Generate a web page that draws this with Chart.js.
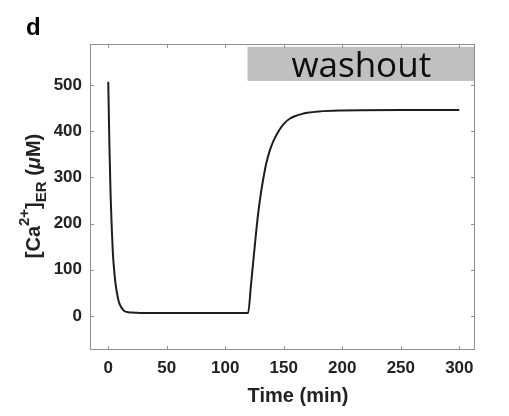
<!DOCTYPE html>
<html>
<head>
<meta charset="utf-8">
<script src="https://cdn.jsdelivr.net/npm/chart.js@4/dist/chart.umd.min.js"></script>
<style>
  html, body { margin: 0; padding: 0; background: #fff; }
  #wrap { width: 509px; height: 416px; position: relative; }
</style>
</head>
<body>
<div id="wrap"><canvas id="chart"></canvas></div>
<script>
// values (time in min, [Ca2+]ER in uM)
const timeMin = [0, 0.5, 1, 1.5, 2, 3, 4, 5, 6, 7, 8, 9, 10, 12, 14, 17, 20, 25, 30, 60, 90,
  119.5, 122, 124, 126, 128, 130, 132, 135, 138, 141, 145, 150, 155, 160, 165, 170, 180, 200, 250, 300]
const caER = [507, 435, 368, 315, 262, 190, 134, 100, 74, 56, 42, 31, 24, 15, 10, 8, 7, 6.5, 6, 6, 6,
  6, 68, 120, 172, 220, 258, 290, 330, 358, 378, 398, 416, 427, 433, 437, 440, 443, 445, 446, 446]

const xTicks = [0, 50, 100, 150, 200, 250, 300]
const yTicks = [0, 100, 200, 300, 400, 500]
const xRange = [-15.6, 313.4]
const yRange = [-74, 589]

// washout bar: starts at t=120 and runs to the right edge
const washoutStart = 119
const washoutBand = [509, 583]
const washoutLabel = 'washout'

const axisGray = '#8f8f8f'
const textDark = '#222'
const sans = '"Liberation Sans", Arial, Helvetica, sans-serif'

const points = timeMin.map((t, i) => ({x: t, y: caER[i]}))

const boxPlugin = {
	id: 'boxPlugin',
	beforeDatasetsDraw(chart) {
		const {ctx, chartArea: a, scales: {x, y}} = chart
		ctx.save()
		// washout bar
		const x0 = x.getPixelForValue(washoutStart)
		const yTop = y.getPixelForValue(washoutBand[1])
		const yBot = y.getPixelForValue(washoutBand[0])
		ctx.fillStyle = '#c0c0c0'
		ctx.fillRect(x0, yTop, a.right - x0, yBot - yTop)
		ctx.fillStyle = '#0c0c0c'
		ctx.font = '35px "Open Sans", "Noto Sans", sans-serif'
		ctx.textAlign = 'center'
		ctx.textBaseline = 'alphabetic'
		ctx.fillText(washoutLabel, x0 + (a.right - x0) * 0.5, yBot - 4)
		ctx.restore()
	},
	afterDatasetsDraw(chart) {
		const {ctx, chartArea: a, scales: {x, y}} = chart
		ctx.save()
		ctx.strokeStyle = axisGray
		ctx.lineWidth = 1
		ctx.strokeRect(a.left + 0.5, a.top + 0.5, a.right - a.left - 1, a.bottom - a.top - 1)
		ctx.beginPath()
		const len = 4
		xTicks.forEach(v => {
			const px = Math.round(x.getPixelForValue(v)) + 0.5
			ctx.moveTo(px, a.bottom); ctx.lineTo(px, a.bottom - len)
			ctx.moveTo(px, a.top); ctx.lineTo(px, a.top + len)
		})
		yTicks.forEach(v => {
			const py = Math.round(y.getPixelForValue(v)) + 0.5
			ctx.moveTo(a.left, py); ctx.lineTo(a.left + len, py)
			ctx.moveTo(a.right, py); ctx.lineTo(a.right - len, py)
		})
		ctx.stroke()

		// panel letter
		ctx.fillStyle = '#000'
		ctx.font = 'bold 24px ' + sans
		ctx.textAlign = 'left'
		ctx.textBaseline = 'alphabetic'
		ctx.fillText('d', 26, 35)

		// x title
		ctx.fillStyle = textDark
		ctx.font = 'bold 20px ' + sans
		ctx.textAlign = 'center'
		ctx.fillText('Time (min)', 298, 402)

		// y title with super/subscript, rotated
		const parts = [
			{t: '[Ca', f: 'bold 20px ' + sans, dy: 0},
			{t: '2+', f: 'bold 15px ' + sans, dy: -11},
			{t: ']', f: 'bold 20px ' + sans, dy: 0},
			{t: 'ER', f: 'bold 15px ' + sans, dy: 6},
			{t: ' (', f: 'bold 20px ' + sans, dy: 0},
			{t: '\u03bc', f: 'italic bold 20px ' + sans, dy: 0},
			{t: 'M)', f: 'bold 20px ' + sans, dy: 0}
		]
		let total = 0
		parts.forEach(p => { ctx.font = p.f; p.w = ctx.measureText(p.t).width; total += p.w })
		ctx.translate(40, 196)
		ctx.rotate(-Math.PI / 2)
		ctx.textAlign = 'left'
		let cx = -total / 2
		parts.forEach(p => {
			ctx.font = p.f
			ctx.fillText(p.t, cx, p.dy)
			cx += p.w
		})
		ctx.restore()
	}
}

new Chart(document.getElementById('chart'), {
	type: 'line',
	data: {
		datasets: [{
			data: points,
			borderColor: '#1e1e1e',
			borderWidth: 2,
			pointRadius: 0,
			fill: false,
			cubicInterpolationMode: 'monotone'
		}]
	},
	options: {
		responsive: true,
		maintainAspectRatio: false,
		animation: false,
		layout: {padding: {top: 44, right: 34, left: 0, bottom: 0}},
		plugins: {legend: {display: false}, tooltip: {enabled: false}},
		scales: {
			x: {
				type: 'linear',
				min: xRange[0],
				max: xRange[1],
				afterBuildTicks: s => { s.ticks = xTicks.map(v => ({value: v})) },
				afterFit: s => { s.height = 66 },
				grid: {display: false, drawTicks: false},
				border: {display: false},
				ticks: {
					padding: 8,
					color: textDark,
					font: {family: sans, size: 17, weight: 'bold'},
					maxRotation: 0
				}
			},
			y: {
				type: 'linear',
				min: yRange[0],
				max: yRange[1],
				afterBuildTicks: s => { s.ticks = yTicks.map(v => ({value: v})) },
				afterFit: s => { s.width = 90 },
				grid: {display: false, drawTicks: false},
				border: {display: false},
				ticks: {
					padding: 8,
					color: textDark,
					font: {family: sans, size: 17, weight: 'bold'}
				}
			}
		}
	},
	plugins: [boxPlugin]
})
</script>
</body>
</html>
